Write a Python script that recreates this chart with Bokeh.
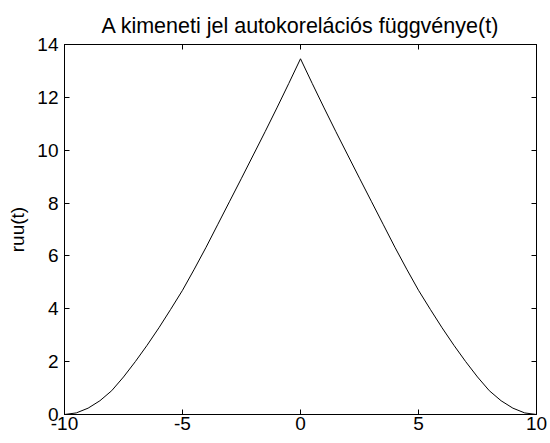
from bokeh.plotting import figure
from bokeh.models import Range1d, FixedTicker, LinearAxis, CustomJSTickFormatter
from bokeh.embed import file_html
from bokeh.resources import INLINE

# lag values (t) and autocorrelation values ruu(t)
lag = [-10.0, -9.5, -9.0, -8.5, -8.0, -7.5, -7.0, -6.5, -6.0, -5.5, -5.0,
       -4.5, -4.0, -3.5, -3.0, -2.5, -2.0, -1.5, -1.0, -0.5, 0.0,
       0.5, 1.0, 1.5, 2.0, 2.5, 3.0, 3.5, 4.0, 4.5, 5.0,
       5.5, 6.0, 6.5, 7.0, 7.5, 8.0, 8.5, 9.0, 9.5, 10.0]
ruu = [0.0, 0.06, 0.24, 0.52, 0.90, 1.42, 2.00, 2.62, 3.28, 3.98, 4.70,
       5.50, 6.33, 7.20, 8.07, 8.94, 9.82, 10.70, 11.60, 12.52, 13.46,
       12.52, 11.60, 10.70, 9.82, 8.94, 8.07, 7.20, 6.33, 5.50, 4.70,
       3.98, 3.28, 2.62, 2.00, 1.42, 0.90, 0.52, 0.24, 0.06, 0.0]

x_ticks = [-10, -5, 0, 5, 10]
y_ticks = [0, 2, 4, 6, 8, 10, 12, 14]

FONT = "Liberation Sans"
FS = "19px"

p = figure(width=550, height=443, output_backend="svg", toolbar_location=None,
           x_range=Range1d(-10, 10), y_range=Range1d(0, 14),
           min_border_left=64, min_border_right=14, min_border_top=44, min_border_bottom=29,
           title="A kimeneti jel autokorelációs függvénye(t)")
p.background_fill_color = "white"
p.border_fill_color = "white"
p.outline_line_color = "black"
p.grid.visible = False

p.title.align = "center"
p.title.vertical_align = "middle"
p.title.text_font = FONT
p.title.text_font_size = "21.5px"
p.title.text_font_style = "normal"
p.title.text_color = "black"
p.title.standoff = 12

p.line(lag, ruu, line_color="black", line_width=1)

plain = CustomJSTickFormatter(code="return String(tick)")

def style(ax, ticks):
    ax.ticker = FixedTicker(ticks=ticks)
    ax.major_tick_in = 5
    ax.major_tick_out = 0
    ax.minor_tick_line_color = None
    ax.axis_line_color = "black"
    ax.major_tick_line_color = "black"
    ax.major_label_text_font = FONT
    ax.major_label_text_font_size = FS
    ax.major_label_text_color = "black"
    ax.axis_label_text_font = FONT
    ax.axis_label_text_font_size = FS
    ax.axis_label_text_font_style = "normal"
    ax.axis_label_text_color = "black"

style(p.xaxis[0], x_ticks)
style(p.yaxis[0], y_ticks)
p.xaxis[0].formatter = plain
p.yaxis[0].formatter = CustomJSTickFormatter(code="return String(tick)")
p.xaxis[0].major_label_standoff = 2
p.yaxis[0].major_label_standoff = 6
p.yaxis[0].axis_label = "ruu(t)"
p.yaxis[0].axis_label_standoff = 6

top = LinearAxis()
style(top, x_ticks)
top.formatter = CustomJSTickFormatter(code="return ''")
top.major_label_standoff = 0
top.major_label_text_font_size = "1px"
p.add_layout(top, "above")
right = LinearAxis()
style(right, y_ticks)
right.formatter = CustomJSTickFormatter(code="return ''")
right.major_label_standoff = 0
right.major_label_text_font_size = "1px"
p.add_layout(right, "right")

open("out.html", "w").write(file_html(p, INLINE))
